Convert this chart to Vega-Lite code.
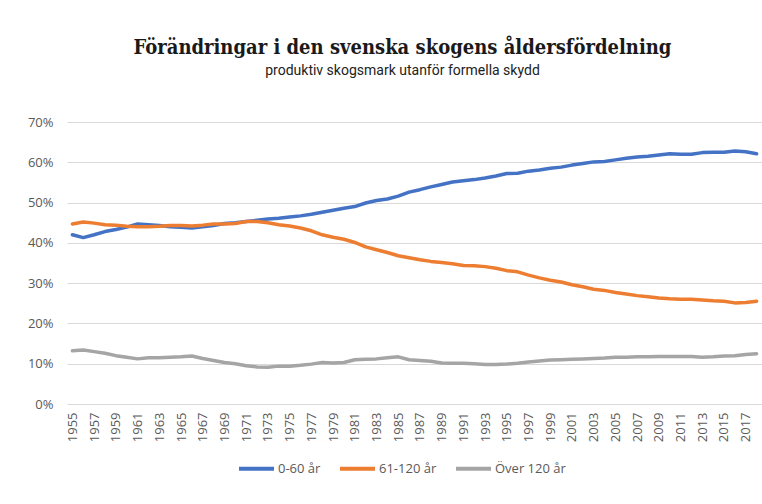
{
  "$schema": "https://vega.github.io/schema/vega-lite/v6.json",
  "width": 695,
  "height": 282,
  "autosize": {"type": "none"},
  "padding": {"left": 67, "top": 122, "right": 0, "bottom": 100},
  "background": "white",
  "title": {
    "text": "Förändringar i den svenska skogens åldersfördelning",
    "subtitle": "produktiv skogsmark utanför formella skydd",
    "anchor": "middle",
    "frame": "group",
    "dx": -12,
    "offset": 38,
    "font": "DejaVu Serif Condensed",
    "fontSize": 20,
    "fontWeight": "bold",
    "color": "#1a1a1a",
    "subtitleFont": "Roboto",
    "subtitleFontSize": 14,
    "subtitleColor": "#222222",
    "subtitlePadding": 6
  },
  "data": {"values": [
    {"year":1955,"group":"0-60 år","value":42.0},{"year":1956,"group":"0-60 år","value":41.3},{"year":1957,"group":"0-60 år","value":42.0},{"year":1958,"group":"0-60 år","value":42.8},{"year":1959,"group":"0-60 år","value":43.3},{"year":1960,"group":"0-60 år","value":43.9},{"year":1961,"group":"0-60 år","value":44.7},{"year":1962,"group":"0-60 år","value":44.5},{"year":1963,"group":"0-60 år","value":44.3},{"year":1964,"group":"0-60 år","value":44.0},{"year":1965,"group":"0-60 år","value":43.9},{"year":1966,"group":"0-60 år","value":43.7},{"year":1967,"group":"0-60 år","value":44.0},{"year":1968,"group":"0-60 år","value":44.3},{"year":1969,"group":"0-60 år","value":44.8},{"year":1970,"group":"0-60 år","value":45.0},{"year":1971,"group":"0-60 år","value":45.3},{"year":1972,"group":"0-60 år","value":45.6},{"year":1973,"group":"0-60 år","value":45.9},{"year":1974,"group":"0-60 år","value":46.1},{"year":1975,"group":"0-60 år","value":46.4},{"year":1976,"group":"0-60 år","value":46.7},{"year":1977,"group":"0-60 år","value":47.1},{"year":1978,"group":"0-60 år","value":47.6},{"year":1979,"group":"0-60 år","value":48.1},{"year":1980,"group":"0-60 år","value":48.6},{"year":1981,"group":"0-60 år","value":49.0},{"year":1982,"group":"0-60 år","value":49.9},{"year":1983,"group":"0-60 år","value":50.5},{"year":1984,"group":"0-60 år","value":50.9},{"year":1985,"group":"0-60 år","value":51.6},{"year":1986,"group":"0-60 år","value":52.6},{"year":1987,"group":"0-60 år","value":53.2},{"year":1988,"group":"0-60 år","value":53.9},{"year":1989,"group":"0-60 år","value":54.5},{"year":1990,"group":"0-60 år","value":55.1},{"year":1991,"group":"0-60 år","value":55.4},{"year":1992,"group":"0-60 år","value":55.7},{"year":1993,"group":"0-60 år","value":56.1},{"year":1994,"group":"0-60 år","value":56.6},{"year":1995,"group":"0-60 år","value":57.2},{"year":1996,"group":"0-60 år","value":57.3},{"year":1997,"group":"0-60 år","value":57.8},{"year":1998,"group":"0-60 år","value":58.1},{"year":1999,"group":"0-60 år","value":58.5},{"year":2000,"group":"0-60 år","value":58.8},{"year":2001,"group":"0-60 år","value":59.3},{"year":2002,"group":"0-60 år","value":59.7},{"year":2003,"group":"0-60 år","value":60.1},{"year":2004,"group":"0-60 år","value":60.2},{"year":2005,"group":"0-60 år","value":60.6},{"year":2006,"group":"0-60 år","value":61.0},{"year":2007,"group":"0-60 år","value":61.3},{"year":2008,"group":"0-60 år","value":61.5},{"year":2009,"group":"0-60 år","value":61.8},{"year":2010,"group":"0-60 år","value":62.1},{"year":2011,"group":"0-60 år","value":62.0},{"year":2012,"group":"0-60 år","value":62.0},{"year":2013,"group":"0-60 år","value":62.4},{"year":2014,"group":"0-60 år","value":62.5},{"year":2015,"group":"0-60 år","value":62.5},{"year":2016,"group":"0-60 år","value":62.8},{"year":2017,"group":"0-60 år","value":62.6},{"year":2018,"group":"0-60 år","value":62.1},
    {"year":1955,"group":"61-120 år","value":44.7},{"year":1956,"group":"61-120 år","value":45.2},{"year":1957,"group":"61-120 år","value":44.9},{"year":1958,"group":"61-120 år","value":44.5},{"year":1959,"group":"61-120 år","value":44.4},{"year":1960,"group":"61-120 år","value":44.1},{"year":1961,"group":"61-120 år","value":44.0},{"year":1962,"group":"61-120 år","value":44.0},{"year":1963,"group":"61-120 år","value":44.1},{"year":1964,"group":"61-120 år","value":44.3},{"year":1965,"group":"61-120 år","value":44.3},{"year":1966,"group":"61-120 år","value":44.2},{"year":1967,"group":"61-120 år","value":44.4},{"year":1968,"group":"61-120 år","value":44.7},{"year":1969,"group":"61-120 år","value":44.7},{"year":1970,"group":"61-120 år","value":44.8},{"year":1971,"group":"61-120 år","value":45.3},{"year":1972,"group":"61-120 år","value":45.3},{"year":1973,"group":"61-120 år","value":45.0},{"year":1974,"group":"61-120 år","value":44.5},{"year":1975,"group":"61-120 år","value":44.2},{"year":1976,"group":"61-120 år","value":43.7},{"year":1977,"group":"61-120 år","value":43.0},{"year":1978,"group":"61-120 år","value":42.0},{"year":1979,"group":"61-120 år","value":41.4},{"year":1980,"group":"61-120 år","value":40.9},{"year":1981,"group":"61-120 år","value":40.1},{"year":1982,"group":"61-120 år","value":39.0},{"year":1983,"group":"61-120 år","value":38.3},{"year":1984,"group":"61-120 år","value":37.6},{"year":1985,"group":"61-120 år","value":36.8},{"year":1986,"group":"61-120 år","value":36.3},{"year":1987,"group":"61-120 år","value":35.8},{"year":1988,"group":"61-120 år","value":35.4},{"year":1989,"group":"61-120 år","value":35.1},{"year":1990,"group":"61-120 år","value":34.8},{"year":1991,"group":"61-120 år","value":34.4},{"year":1992,"group":"61-120 år","value":34.3},{"year":1993,"group":"61-120 år","value":34.1},{"year":1994,"group":"61-120 år","value":33.7},{"year":1995,"group":"61-120 år","value":33.1},{"year":1996,"group":"61-120 år","value":32.8},{"year":1997,"group":"61-120 år","value":32.0},{"year":1998,"group":"61-120 år","value":31.3},{"year":1999,"group":"61-120 år","value":30.7},{"year":2000,"group":"61-120 år","value":30.3},{"year":2001,"group":"61-120 år","value":29.6},{"year":2002,"group":"61-120 år","value":29.1},{"year":2003,"group":"61-120 år","value":28.5},{"year":2004,"group":"61-120 år","value":28.2},{"year":2005,"group":"61-120 år","value":27.7},{"year":2006,"group":"61-120 år","value":27.3},{"year":2007,"group":"61-120 år","value":26.9},{"year":2008,"group":"61-120 år","value":26.6},{"year":2009,"group":"61-120 år","value":26.3},{"year":2010,"group":"61-120 år","value":26.1},{"year":2011,"group":"61-120 år","value":26.0},{"year":2012,"group":"61-120 år","value":26.0},{"year":2013,"group":"61-120 år","value":25.8},{"year":2014,"group":"61-120 år","value":25.6},{"year":2015,"group":"61-120 år","value":25.5},{"year":2016,"group":"61-120 år","value":25.1},{"year":2017,"group":"61-120 år","value":25.2},{"year":2018,"group":"61-120 år","value":25.5},
    {"year":1955,"group":"Över 120 år","value":13.2},{"year":1956,"group":"Över 120 år","value":13.4},{"year":1957,"group":"Över 120 år","value":13.0},{"year":1958,"group":"Över 120 år","value":12.6},{"year":1959,"group":"Över 120 år","value":12.0},{"year":1960,"group":"Över 120 år","value":11.6},{"year":1961,"group":"Över 120 år","value":11.2},{"year":1962,"group":"Över 120 år","value":11.5},{"year":1963,"group":"Över 120 år","value":11.5},{"year":1964,"group":"Över 120 år","value":11.6},{"year":1965,"group":"Över 120 år","value":11.7},{"year":1966,"group":"Över 120 år","value":11.9},{"year":1967,"group":"Över 120 år","value":11.3},{"year":1968,"group":"Över 120 år","value":10.8},{"year":1969,"group":"Över 120 år","value":10.3},{"year":1970,"group":"Över 120 år","value":10.0},{"year":1971,"group":"Över 120 år","value":9.5},{"year":1972,"group":"Över 120 år","value":9.2},{"year":1973,"group":"Över 120 år","value":9.1},{"year":1974,"group":"Över 120 år","value":9.4},{"year":1975,"group":"Över 120 år","value":9.4},{"year":1976,"group":"Över 120 år","value":9.6},{"year":1977,"group":"Över 120 år","value":9.9},{"year":1978,"group":"Över 120 år","value":10.3},{"year":1979,"group":"Över 120 år","value":10.2},{"year":1980,"group":"Över 120 år","value":10.3},{"year":1981,"group":"Över 120 år","value":11.0},{"year":1982,"group":"Över 120 år","value":11.1},{"year":1983,"group":"Över 120 år","value":11.2},{"year":1984,"group":"Över 120 år","value":11.5},{"year":1985,"group":"Över 120 år","value":11.7},{"year":1986,"group":"Över 120 år","value":11.0},{"year":1987,"group":"Över 120 år","value":10.8},{"year":1988,"group":"Över 120 år","value":10.6},{"year":1989,"group":"Över 120 år","value":10.2},{"year":1990,"group":"Över 120 år","value":10.1},{"year":1991,"group":"Över 120 år","value":10.1},{"year":1992,"group":"Över 120 år","value":10.0},{"year":1993,"group":"Över 120 år","value":9.8},{"year":1994,"group":"Över 120 år","value":9.8},{"year":1995,"group":"Över 120 år","value":9.9},{"year":1996,"group":"Över 120 år","value":10.1},{"year":1997,"group":"Över 120 år","value":10.4},{"year":1998,"group":"Över 120 år","value":10.7},{"year":1999,"group":"Över 120 år","value":10.9},{"year":2000,"group":"Över 120 år","value":11.0},{"year":2001,"group":"Över 120 år","value":11.1},{"year":2002,"group":"Över 120 år","value":11.2},{"year":2003,"group":"Över 120 år","value":11.3},{"year":2004,"group":"Över 120 år","value":11.4},{"year":2005,"group":"Över 120 år","value":11.6},{"year":2006,"group":"Över 120 år","value":11.6},{"year":2007,"group":"Över 120 år","value":11.7},{"year":2008,"group":"Över 120 år","value":11.7},{"year":2009,"group":"Över 120 år","value":11.8},{"year":2010,"group":"Över 120 år","value":11.8},{"year":2011,"group":"Över 120 år","value":11.8},{"year":2012,"group":"Över 120 år","value":11.8},{"year":2013,"group":"Över 120 år","value":11.6},{"year":2014,"group":"Över 120 år","value":11.7},{"year":2015,"group":"Över 120 år","value":11.9},{"year":2016,"group":"Över 120 år","value":12.0},{"year":2017,"group":"Över 120 år","value":12.3},{"year":2018,"group":"Över 120 år","value":12.5}
  ]},
  "mark": {"type": "line", "strokeWidth": 3.5, "strokeJoin": "round", "strokeCap": "round"},
  "encoding": {
    "x": {
      "field": "year",
      "type": "ordinal",
      "scale": {"type": "point", "padding": 0.5},
      "axis": {
        "title": null,
        "values": [1955,1957,1959,1961,1963,1965,1967,1969,1971,1973,1975,1977,1979,1981,1983,1985,1987,1989,1991,1993,1995,1997,1999,2001,2003,2005,2007,2009,2011,2013,2015,2017],
        "labelAngle": -90,
        "labelPadding": 8,
        "ticks": false,
        "domain": false,
        "grid": false
      }
    },
    "y": {
      "field": "value",
      "type": "quantitative",
      "scale": {"domain": [0, 70], "nice": false},
      "axis": {
        "title": null,
        "values": [0,10,20,30,40,50,60,70],
        "labelExpr": "datum.value + '%'",
        "labelPadding": 14,
        "ticks": false,
        "domain": false,
        "grid": true,
        "gridColor": "#D9D9D9",
        "gridWidth": 1.2
      }
    },
    "color": {
      "field": "group",
      "type": "nominal",
      "scale": {"domain": ["0-60 år", "61-120 år", "Över 120 år"], "range": ["#4472C4", "#ED7D31", "#A5A5A5"]},
      "legend": {
        "title": null,
        "orient": "none",
        "direction": "horizontal",
        "legendX": 170,
        "legendY": 327,
        "symbolType": "stroke",
        "symbolSize": 1225,
        "symbolStrokeWidth": 4,
        "labelOffset": 2,
        "columnPadding": 11,
        "labelFont": "Open Sans",
        "labelFontSize": 13,
        "labelColor": "#595959"
      }
    }
  },
  "config": {
    "view": {"stroke": null},
    "axis": {"labelFont": "Open Sans", "labelFontSize": 13, "labelColor": "#595959"}
  }
}
